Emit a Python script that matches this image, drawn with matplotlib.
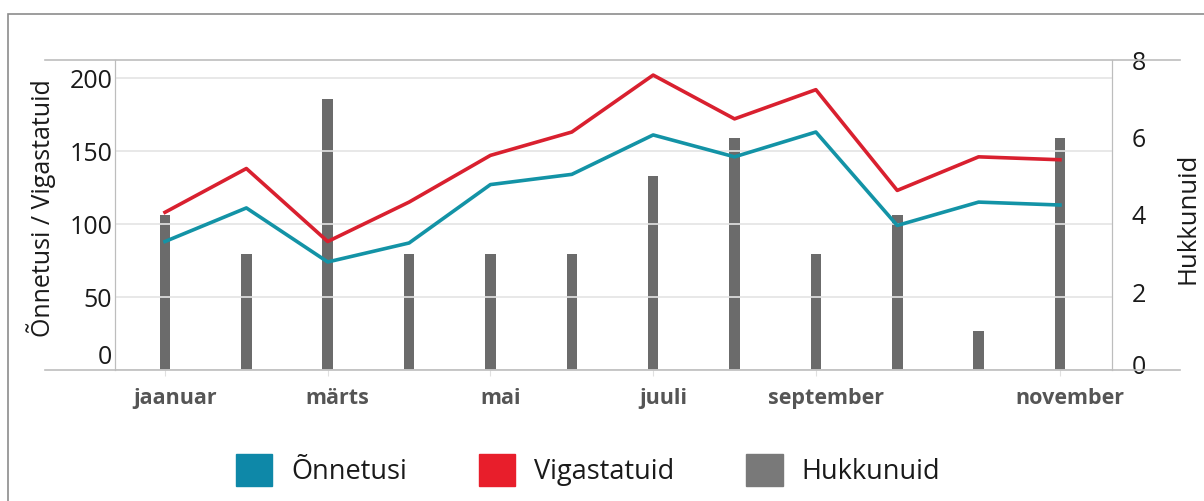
import numpy as np
import matplotlib
matplotlib.use("Agg")
import matplotlib.pyplot as plt
import matplotlib.transforms as mtransforms
from matplotlib.patches import Patch, Rectangle
from matplotlib.lines import Line2D

plt.rcParams['font.family'] = ['Open Sans', 'DejaVu Sans']

# andmed
kuud = ['jaanuar', 'veebruar', 'märts', 'aprill', 'mai', 'juuni', 'juuli',
        'august', 'september', 'oktoober', 'november', 'detsember']
onnetusi = [88, 111, 74, 87, 127, 134, 161, 146, 163, 99, 115, 113]
vigastatuid = [108, 138, 88, 115, 147, 163, 202, 172, 192, 123, 146, 144]
hukkunuid = [4, 3, 7, 3, 3, 3, 5, 6, 3, 4, 1, 6]
xtick_pos = [0, 2, 4, 6, 8, 11]
xtick_labels = ['jaanuar', 'märts', 'mai', 'juuli', 'september', 'november']

TEAL = '#1393A6'
RED = '#D9202F'
GRAY = '#6B6B6B'
LINE = '#BDBDBD'
GRID = '#E4E4E4'
TXT = '#1A1A1A'

W, H = 1204, 501
fig = plt.figure(figsize=(W / 100, H / 100), dpi=100)

# raam ümber joonise
fig.patches.append(Rectangle((8 / W, -0.1), 1.2, 1 - 14 / H + 0.1,
                             transform=fig.transFigure, fill=False,
                             edgecolor='#8C8C8C', lw=1.2))
# ülemine ja alumine joon üle kogu laiuse
for yy in (60, 370):
    fig.lines.append(Line2D([45 / W, 1180 / W], [1 - yy / H] * 2,
                            transform=fig.transFigure, color=LINE, lw=1.2))

ax = fig.add_axes([115 / W, 1 - 370 / H, 997 / W, 310 / H])
ax2 = ax.twinx()
x = np.arange(len(kuud))
x0, step = 165, 81.36
xl = ((115 - x0) / step, (1112 - x0) / step)

# tulbad (hukkunuid) - parem telg
ax.bar(x, hukkunuid, width=0.13, color=GRAY, zorder=2)
ax.set_xlim(*xl)
ax.set_ylim(0, 8)
ax.yaxis.tick_right()
ax.set_yticks([0, 2, 4, 6, 8])
ax.tick_params(axis='y', length=0, pad=14, labelsize=18, labelcolor=TXT)

# jooned - vasak telg
ax2.yaxis.tick_left()
ax2.set_ylim(0, 200 * 310 / 292)
ax2.set_xlim(*xl)
ax2.grid(axis='y', color=GRID, lw=1.2)
ax2.set_axisbelow(True)
ax2.plot(x, onnetusi, color=TEAL, lw=2.6, zorder=3)
ax2.plot(x, vigastatuid, color=RED, lw=2.6, zorder=3)
ax2.set_yticks([0, 50, 100, 150, 200])
ax2.tick_params(axis='y', length=0, pad=2, labelsize=18, labelcolor=TXT)

for a in (ax, ax2):
    a.spines['left'].set_color(LINE)
    a.spines['right'].set_color(LINE)
    a.spines['top'].set_visible(False)
    a.spines['bottom'].set_visible(False)
    a.patch.set_visible(False)

ax.set_xticks(xtick_pos)
ax.set_xticklabels(xtick_labels, fontsize=15.5, fontweight='bold', color='#555555')
ax.tick_params(axis='x', length=4, color='#E0E0E0', pad=9)
off = mtransforms.ScaledTranslation(10 / 100, 0, fig.dpi_scale_trans)
for lab in ax.get_xticklabels():
    lab.set_transform(lab.get_transform() + off)

# 0-sildid veidi kõrgemale
up = mtransforms.ScaledTranslation(0, 16 / 100, fig.dpi_scale_trans)
lab0 = ax2.get_yticklabels()[0]
lab0.set_transform(lab0.get_transform() + up)
up2 = mtransforms.ScaledTranslation(0, 6 / 100, fig.dpi_scale_trans)
rlab0 = ax.get_yticklabels()[0]
rlab0.set_transform(rlab0.get_transform() + up2)

fig.text(41 / W, 1 - 208 / H, 'Õnnetusi / Vigastatuid', rotation=90,
         ha='center', va='center', fontsize=18, color=TXT)
fig.text(1188 / W, 1 - 218 / H, 'Hukkunuid', rotation=90,
         ha='center', va='center', fontsize=18.5, color=TXT)

handles = [Patch(color='#0E88A8', label='Õnnetusi'),
           Patch(color='#E81E2B', label='Vigastatuid'),
           Patch(color='#797979', label='Hukkunuid')]
fig.legend(handles=handles, loc='center', bbox_to_anchor=(588 / W, 1 - 470 / H),
           ncol=3, frameon=False, fontsize=19.5, handlelength=1.35,
           handleheight=1.45, handletextpad=0.7, columnspacing=2.65,
           labelcolor=TXT)

fig.savefig('out.png', dpi=100)
